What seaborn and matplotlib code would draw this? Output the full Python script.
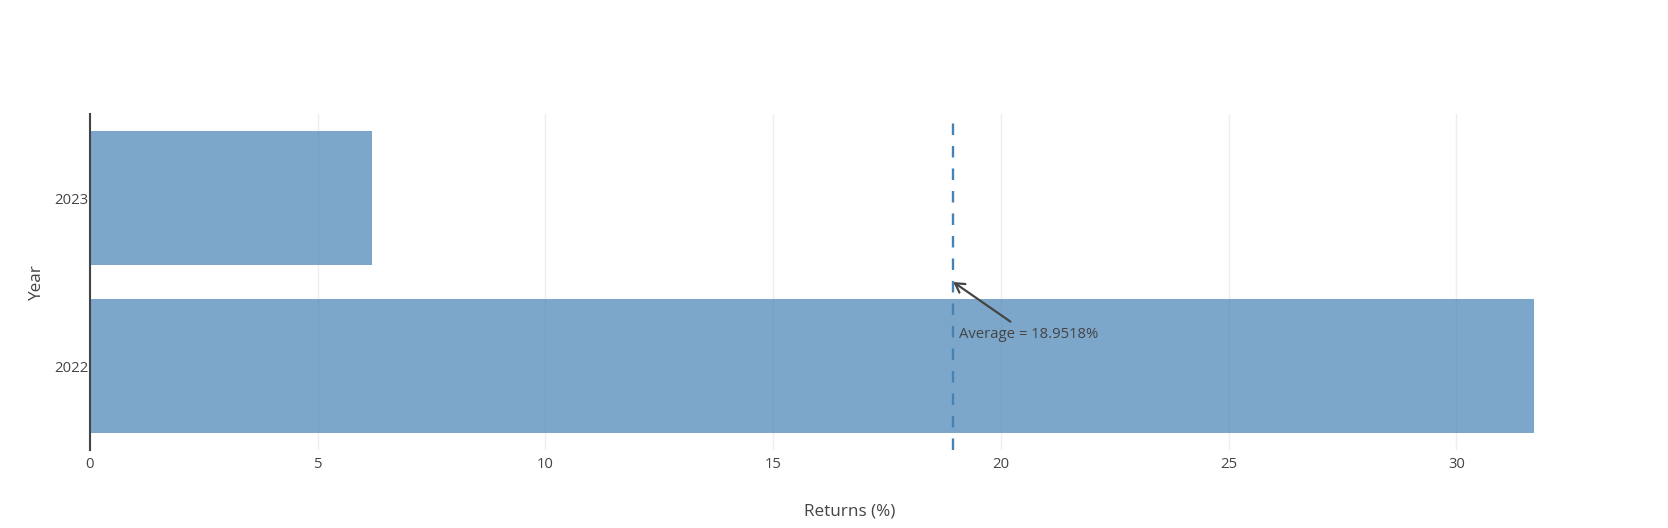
import matplotlib
matplotlib.use("Agg")
import matplotlib.pyplot as plt
import seaborn as sns
import pandas as pd

anos = ["2023", "2022"]
retornos = [6.2, 31.7036]
xticks = [0, 5, 10, 15, 20, 25, 30]

C_TEXTO = "#444444"
C_BARRA = "#4682b4"
C_GRADE = "#eeeeee"

sns.set_theme(style="white")
plt.rcParams['font.family'] = ['Open Sans', 'DejaVu Sans']
plt.rcParams['text.color'] = C_TEXTO
plt.rcParams['axes.labelcolor'] = C_TEXTO
plt.rcParams['xtick.color'] = C_TEXTO
plt.rcParams['ytick.color'] = C_TEXTO
plt.rcParams['lines.scale_dashes'] = False

df = pd.DataFrame({'Year': anos, 'Returns': retornos})
media = df['Returns'].mean()

fig = plt.figure(figsize=(16.68, 5.28), dpi=100)
ax = fig.add_axes([90 / 1668, 78 / 528, 1520 / 1668, 336 / 528])

sns.barplot(data=df, x='Returns', y='Year', order=anos, orient='h',
            color=C_BARRA, alpha=0.7, saturation=1, width=0.8,
            linewidth=0, ax=ax, zorder=2)

ax.set_xlim(0, 33.37)
ax.set_ylim(1.5, -0.5)
ax.set_xticks(xticks)
ax.grid(axis='x', color=C_GRADE, linewidth=1, zorder=0)
ax.set_axisbelow(True)

for lado in ['top', 'right', 'bottom']:
    ax.spines[lado].set_visible(False)
ax.spines['left'].set_color(C_TEXTO)
ax.spines['left'].set_linewidth(1.5)
ax.spines['left'].set_zorder(5)

ax.tick_params(axis='both', length=0, labelsize=10.7)
ax.tick_params(axis='x', pad=5)
ax.tick_params(axis='y', pad=1)

# linha da media, desenhada de baixo para cima
ax.plot([media, media], [1.5, -0.5], color=C_BARRA, linewidth=1.7,
        dashes=(8.3, 7.9), zorder=4, clip_on=False)

ax.annotate(f"Average = {media:.4f}%", xy=(media, 0.5),
            xytext=(75, -52), textcoords='offset pixels',
            ha='center', va='center', fontsize=10.7, color=C_TEXTO,
            arrowprops=dict(arrowstyle='->,head_length=0.6,head_width=0.35',
                            color=C_TEXTO, lw=1.6, shrinkA=2, shrinkB=0),
            zorder=6)

ax.set_xlabel("Returns (%)", fontsize=12.3)
ax.set_ylabel("Year", fontsize=12.3)
ax.xaxis.set_label_coords(0.5, (450 - 511) / 336)
ax.xaxis.label.set_va('center')
ax.yaxis.set_label_coords((37 - 90) / 1520, 0.5)
ax.yaxis.label.set_va('center')

fig.savefig("out.png", dpi=100, facecolor='white')
plt.close(fig)
